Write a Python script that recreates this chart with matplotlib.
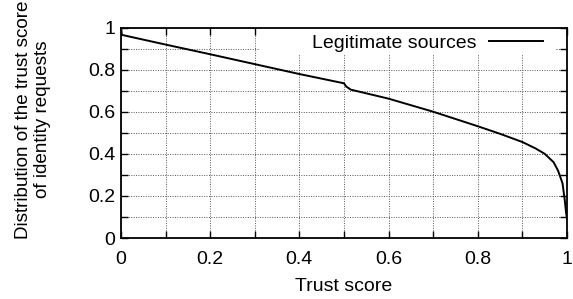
import matplotlib
matplotlib.use("Agg")
import matplotlib.pyplot as plt
from matplotlib.ticker import MultipleLocator, FuncFormatter
from matplotlib.patches import Rectangle

trust_score = [0.0, 0.002, 0.1, 0.2, 0.3, 0.4, 0.5, 0.505, 0.515, 0.6, 0.7, 0.8,
               0.85, 0.9, 0.93, 0.95, 0.97, 0.98, 0.99, 0.995, 0.998, 1.0]
distribution = [1.0, 0.965, 0.919, 0.873, 0.826, 0.779, 0.735, 0.72, 0.705, 0.662,
                0.6, 0.531, 0.495, 0.456, 0.425, 0.40, 0.36, 0.32, 0.26, 0.18, 0.12, 0.09]
series_label = "Legitimate sources"
x_label = "Trust score"
y_label = "Distribution of the trust score\nof identity requests"

plt.rcParams['font.family'] = ['Liberation Sans', 'DejaVu Sans']
plt.rcParams['font.size'] = 14

fig = plt.figure(figsize=(5.73, 2.99), dpi=100)
ax = fig.add_axes([0.211, 0.204, 0.7785, 0.704])

ax.plot(trust_score, distribution, color='black', lw=1.4, label=series_label, zorder=3)
ax.set_xlim(0, 1)
ax.set_ylim(0, 1)

ax.xaxis.set_major_locator(MultipleLocator(0.2))
ax.xaxis.set_minor_locator(MultipleLocator(0.1))
ax.yaxis.set_major_locator(MultipleLocator(0.2))
ax.yaxis.set_minor_locator(MultipleLocator(0.1))
fmt = FuncFormatter(lambda v, p: ('%g' % round(v, 2)))
ax.xaxis.set_major_formatter(fmt)
ax.yaxis.set_major_formatter(fmt)

ax.tick_params(which='both', direction='in', top=True, right=True, width=1,
               length=5, color='black')
ax.tick_params(axis='x', which='major', pad=9)
ax.tick_params(axis='y', which='major', pad=4)
ax.grid(which='both', linestyle=(0, (1, 1.5)), color='#555555', lw=0.7)
ax.set_axisbelow(True)
for s in ax.spines.values():
    s.set_linewidth(1.3)

# white key box background (hides grid behind legend, as in gnuplot key)
ax.add_patch(Rectangle((0.312, 0.868), 0.661, 0.132, transform=ax.transAxes,
                       facecolor='white', edgecolor='none', zorder=2))

ax.set_xlabel(x_label)
ax.xaxis.set_label_coords(0.5, -0.19)
ax.set_ylabel(y_label, linespacing=1.15, fontsize=13.6)
ax.yaxis.set_label_coords(-0.157, 0.562)

leg = ax.legend(loc='center right', bbox_to_anchor=(0.946, 0.925), markerfirst=False,
                handlelength=2.75, handletextpad=0.67, frameon=False,
                borderpad=0, borderaxespad=0)
leg.set_zorder(4)

fig.savefig("out.png", dpi=100)
